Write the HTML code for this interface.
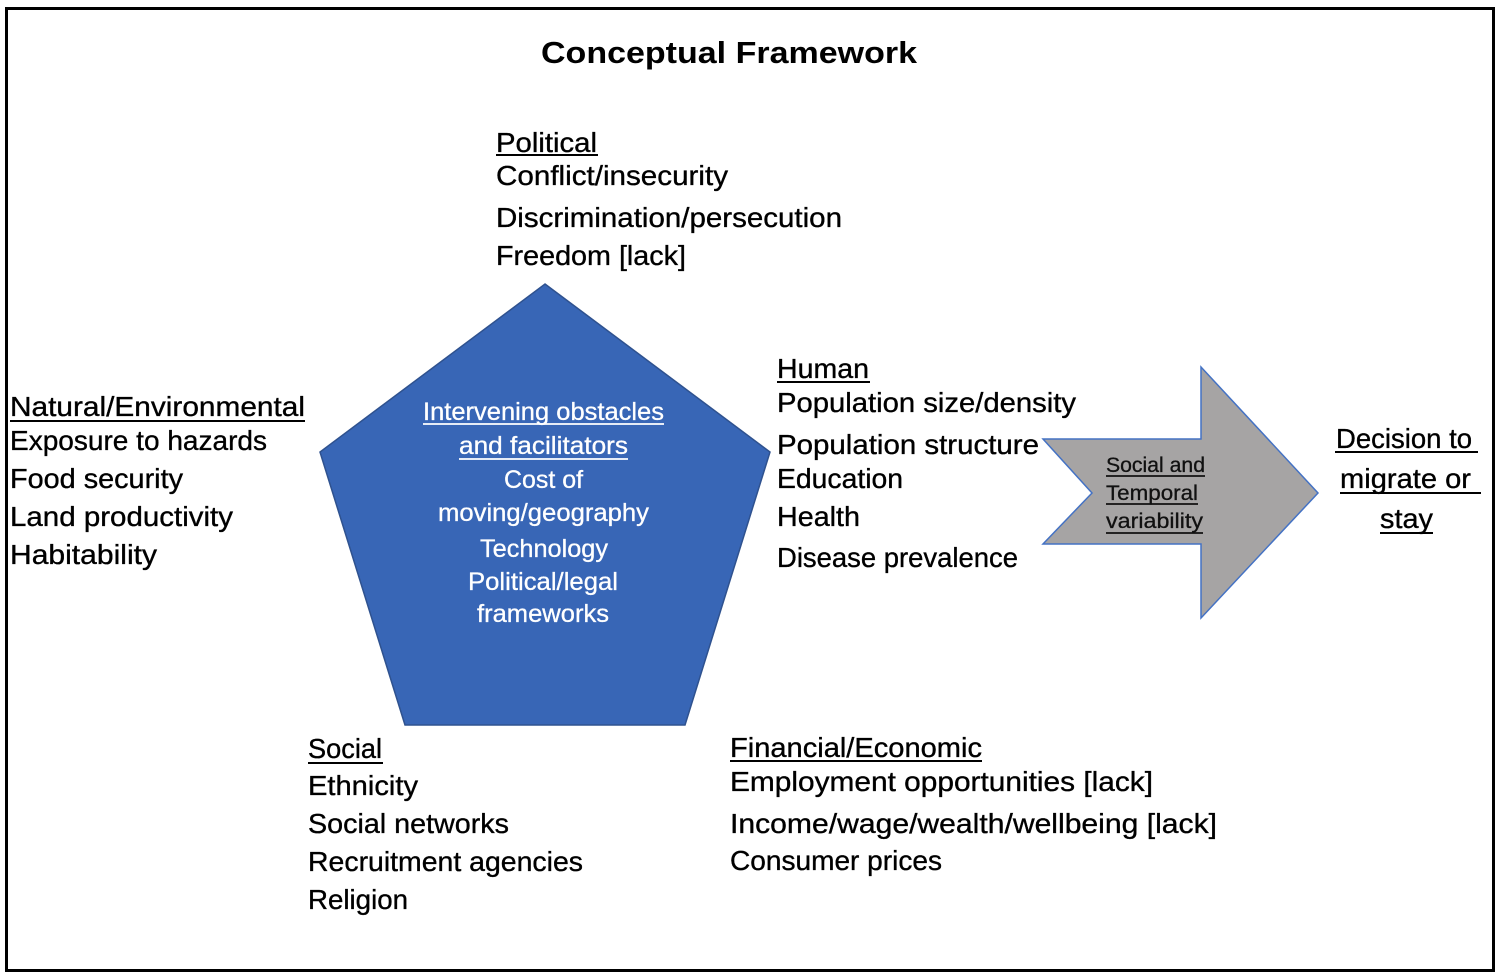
<!DOCTYPE html>
<html>
<head>
<meta charset="utf-8">
<style>
  html,body{margin:0;padding:0;background:#fff;}
  svg{display:block;}
  text{font-family:"Liberation Sans", Arial, sans-serif;}
  .b{font-size:28px;fill:#000;stroke:#000;stroke-width:0.35px;}
  .w{font-size:25px;fill:#fff;stroke:#fff;stroke-width:0.3px;}
  .a{font-size:21px;fill:#111;stroke:#111;stroke-width:0.3px;}
</style>
</head>
<body>
<svg width="1500" height="980" viewBox="0 0 1500 980" xmlns="http://www.w3.org/2000/svg">
  <rect x="0" y="0" width="1500" height="980" fill="#fff"/>
  <rect x="6.5" y="8.5" width="1487" height="962" fill="none" stroke="#000" stroke-width="3"/>

  <!-- Title -->
  <text x="541" y="63" font-size="31" font-weight="bold" fill="#000" textLength="376" lengthAdjust="spacingAndGlyphs">Conceptual Framework</text>

  <!-- Pentagon -->
  <polygon points="545,284 770,452 685,725 405,725 320,452" fill="#3866b6" stroke="#2f528f" stroke-width="1.5"/>

  <!-- Arrow -->
  <polygon points="1043,439 1201,439 1201,367 1318,493 1201,618 1201,544 1043,544 1092,493" fill="#a6a4a4" stroke="#4472c4" stroke-width="1.5"/>

  <!-- Political -->
  <text class="b" x="496" y="152" textLength="101" lengthAdjust="spacingAndGlyphs">Political</text>
  <line x1="496" y1="155" x2="598" y2="155" stroke="#000" stroke-width="2"/>
  <text class="b" x="496" y="185" textLength="232" lengthAdjust="spacingAndGlyphs">Conflict/insecurity</text>
  <text class="b" x="496" y="227" textLength="346" lengthAdjust="spacingAndGlyphs">Discrimination/persecution</text>
  <text class="b" x="496" y="265" textLength="190" lengthAdjust="spacingAndGlyphs">Freedom [lack]</text>

  <!-- Natural/Environmental -->
  <text class="b" x="10" y="416" textLength="295" lengthAdjust="spacingAndGlyphs">Natural/Environmental</text>
  <line x1="10" y1="421" x2="305" y2="421" stroke="#000" stroke-width="2"/>
  <text class="b" x="10" y="450" textLength="257" lengthAdjust="spacingAndGlyphs">Exposure to hazards</text>
  <text class="b" x="10" y="488" textLength="173" lengthAdjust="spacingAndGlyphs">Food security</text>
  <text class="b" x="10" y="526" textLength="223" lengthAdjust="spacingAndGlyphs">Land productivity</text>
  <text class="b" x="10" y="564" textLength="147" lengthAdjust="spacingAndGlyphs">Habitability</text>

  <!-- Human -->
  <text class="b" x="777" y="378" textLength="92" lengthAdjust="spacingAndGlyphs">Human</text>
  <line x1="777" y1="382" x2="870" y2="382" stroke="#000" stroke-width="2"/>
  <text class="b" x="777" y="412" textLength="299" lengthAdjust="spacingAndGlyphs">Population size/density</text>
  <text class="b" x="777" y="454" textLength="262" lengthAdjust="spacingAndGlyphs">Population structure</text>
  <text class="b" x="777" y="488" textLength="126" lengthAdjust="spacingAndGlyphs">Education</text>
  <text class="b" x="777" y="526" textLength="83" lengthAdjust="spacingAndGlyphs">Health</text>
  <text class="b" x="777" y="567" textLength="241" lengthAdjust="spacingAndGlyphs">Disease prevalence</text>

  <!-- Social -->
  <text class="b" x="308" y="758" textLength="74" lengthAdjust="spacingAndGlyphs">Social</text>
  <line x1="308" y1="763" x2="383" y2="763" stroke="#000" stroke-width="2"/>
  <text class="b" x="308" y="795" textLength="110" lengthAdjust="spacingAndGlyphs">Ethnicity</text>
  <text class="b" x="308" y="833" textLength="201" lengthAdjust="spacingAndGlyphs">Social networks</text>
  <text class="b" x="308" y="871" textLength="275" lengthAdjust="spacingAndGlyphs">Recruitment agencies</text>
  <text class="b" x="308" y="909" textLength="100" lengthAdjust="spacingAndGlyphs">Religion</text>

  <!-- Financial/Economic -->
  <text class="b" x="730" y="757" textLength="252" lengthAdjust="spacingAndGlyphs">Financial/Economic</text>
  <line x1="730" y1="761" x2="982" y2="761" stroke="#000" stroke-width="2"/>
  <text class="b" x="730" y="791" textLength="423" lengthAdjust="spacingAndGlyphs">Employment opportunities [lack]</text>
  <text class="b" x="730" y="833" textLength="487" lengthAdjust="spacingAndGlyphs">Income/wage/wealth/wellbeing [lack]</text>
  <text class="b" x="730" y="870" textLength="212" lengthAdjust="spacingAndGlyphs">Consumer prices</text>

  <!-- Decision -->
  <text class="b" x="1336" y="448" textLength="136" lengthAdjust="spacingAndGlyphs">Decision to</text>
  <line x1="1335" y1="452" x2="1478" y2="452" stroke="#000" stroke-width="2"/>
  <text class="b" x="1340" y="488" textLength="131" lengthAdjust="spacingAndGlyphs">migrate or</text>
  <line x1="1340" y1="493" x2="1481" y2="493" stroke="#000" stroke-width="2"/>
  <text class="b" x="1380" y="528" textLength="53" lengthAdjust="spacingAndGlyphs">stay</text>
  <line x1="1380" y1="533" x2="1433" y2="533" stroke="#000" stroke-width="2"/>

  <!-- Pentagon text -->
  <text class="w" x="423" y="420" textLength="241" lengthAdjust="spacingAndGlyphs">Intervening obstacles</text>
  <line x1="423" y1="424" x2="664" y2="424" stroke="#fff" stroke-width="1.8"/>
  <text class="w" x="459" y="454" textLength="169" lengthAdjust="spacingAndGlyphs">and facilitators</text>
  <line x1="459" y1="459" x2="628" y2="459" stroke="#fff" stroke-width="1.8"/>
  <text class="w" x="504" y="488" textLength="79" lengthAdjust="spacingAndGlyphs">Cost of</text>
  <text class="w" x="438" y="521" textLength="211" lengthAdjust="spacingAndGlyphs">moving/geography</text>
  <text class="w" x="480" y="557" textLength="128" lengthAdjust="spacingAndGlyphs">Technology</text>
  <text class="w" x="468" y="590" textLength="150" lengthAdjust="spacingAndGlyphs">Political/legal</text>
  <text class="w" x="477" y="622" textLength="132" lengthAdjust="spacingAndGlyphs">frameworks</text>

  <!-- Arrow text -->
  <text class="a" x="1106" y="472" textLength="99" lengthAdjust="spacingAndGlyphs">Social and</text>
  <line x1="1106" y1="476" x2="1205" y2="476" stroke="#111" stroke-width="1.8"/>
  <text class="a" x="1106" y="500" textLength="92" lengthAdjust="spacingAndGlyphs">Temporal</text>
  <line x1="1106" y1="504" x2="1198" y2="504" stroke="#111" stroke-width="1.8"/>
  <text class="a" x="1106" y="528" textLength="97" lengthAdjust="spacingAndGlyphs">variability</text>
  <line x1="1106" y1="533" x2="1203" y2="533" stroke="#111" stroke-width="1.8"/>
</svg>
</body>
</html>
